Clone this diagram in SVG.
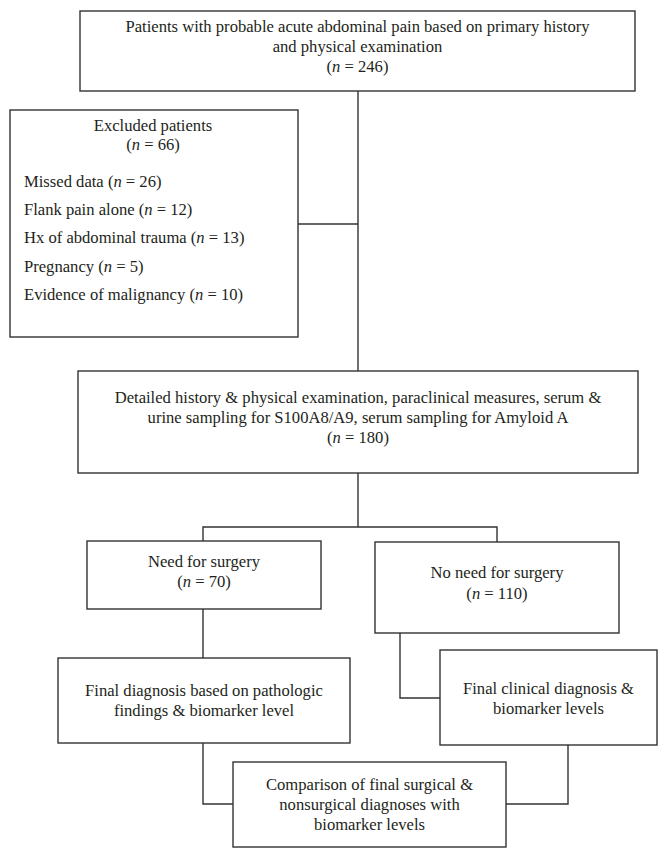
<svg xmlns="http://www.w3.org/2000/svg" width="667" height="858" viewBox="0 0 667 858">
<style>
.box{fill:#fff;stroke:#333;stroke-width:1.4}
.ln{fill:none;stroke:#333;stroke-width:1.4}
text{font-family:"Liberation Serif","Times New Roman",serif;font-size:16.6px;fill:#231f20}
.c{text-anchor:middle}
.i{font-style:italic}
</style>
<rect width="667" height="858" fill="#fff"/>
<g id="connectors">
<path class="ln" d="M358 91V371"/>
<path class="ln" d="M298 224H358"/>
<path class="ln" d="M358 473V527"/>
<path class="ln" d="M203 541V527H497V542"/>
<path class="ln" d="M203 609V658"/>
<path class="ln" d="M400 633V698H440"/>
<path class="ln" d="M203 743V804H233"/>
<path class="ln" d="M568 745V804H506"/>
</g>
<g id="n1">
<rect class="box" x="80" y="11" width="555" height="80"/>
<text class="c" x="357.5" y="32">Patients with probable acute abdominal pain based on primary history</text>
<text class="c" x="357.5" y="52">and physical examination</text>
<text class="c" x="357.5" y="72">(<tspan class="i">n</tspan> = 246)</text>
</g>
<g id="n2">
<rect class="box" x="10" y="110" width="288" height="227"/>
<text class="c" x="153" y="131">Excluded patients</text>
<text class="c" x="153" y="150">(<tspan class="i">n</tspan> = 66)</text>
<text x="24" y="187">Missed data (<tspan class="i">n</tspan> = 26)</text>
<text x="24" y="215">Flank pain alone (<tspan class="i">n</tspan> = 12)</text>
<text x="24" y="243">Hx of abdominal trauma (<tspan class="i">n</tspan> = 13)</text>
<text x="24" y="272">Pregnancy (<tspan class="i">n</tspan> = 5)</text>
<text x="24" y="300">Evidence of malignancy (<tspan class="i">n</tspan> = 10)</text>
</g>
<g id="n3">
<rect class="box" x="78" y="371" width="560" height="102"/>
<text class="c" x="358" y="403">Detailed history &amp; physical examination, paraclinical measures, serum &amp;</text>
<text class="c" x="358" y="423">urine sampling for S100A8/A9, serum sampling for Amyloid A</text>
<text class="c" x="358" y="443">(<tspan class="i">n</tspan> = 180)</text>
</g>
<g id="n4">
<rect class="box" x="87" y="541" width="234" height="68"/>
<text class="c" x="204" y="567">Need for surgery</text>
<text class="c" x="204" y="587">(<tspan class="i">n</tspan> = 70)</text>
</g>
<g id="n5">
<rect class="box" x="375" y="542" width="244" height="91"/>
<text class="c" x="497" y="578">No need for surgery</text>
<text class="c" x="497" y="599">(<tspan class="i">n</tspan> = 110)</text>
</g>
<g id="n6">
<rect class="box" x="58" y="658" width="292" height="85"/>
<text class="c" x="204" y="696">Final diagnosis based on pathologic</text>
<text class="c" x="204" y="716">findings &amp; biomarker level</text>
</g>
<g id="n7">
<rect class="box" x="440" y="650" width="217" height="95"/>
<text class="c" x="548.5" y="694">Final clinical diagnosis &amp;</text>
<text class="c" x="548.5" y="714">biomarker levels</text>
</g>
<g id="n8">
<rect class="box" x="233" y="762" width="273" height="85"/>
<text class="c" x="369.5" y="790">Comparison of final surgical &amp;</text>
<text class="c" x="369.5" y="810">nonsurgical diagnoses with</text>
<text class="c" x="369.5" y="830">biomarker levels</text>
</g>
</svg>
